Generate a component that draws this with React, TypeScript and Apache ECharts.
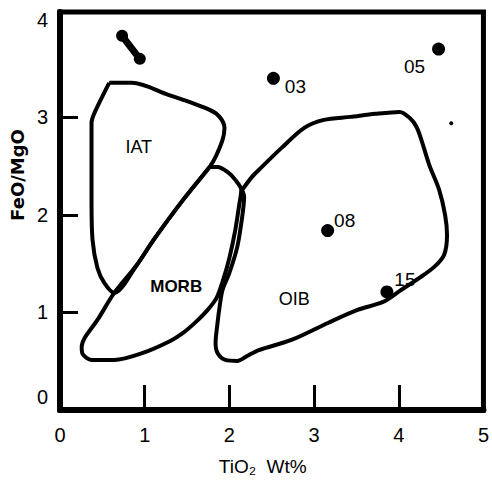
import React, { useEffect, useRef } from "react";
import * as echarts from "echarts";

// TiO2 (wt%) vs FeO/MgO
const xTicks = [1, 2, 3, 4];
const yTicks = [1, 2, 3];
const xLabels = [0, 1, 2, 3, 4, 5];
const yLabels = [0, 1, 2, 3, 4];

const iatField: number[][] = [
  [0.581, 3.354], [0.849, 3.354], [1.279, 3.231], [1.767, 3.077], [1.884, 3.005],
  [1.942, 2.892], [1.919, 2.769], [1.837, 2.595], [1.767, 2.492], [1.453, 2.154],
  [1.105, 1.744], [0.907, 1.487], [0.640, 1.200], [0.523, 1.303], [0.442, 1.456],
  [0.384, 1.744], [0.372, 2.154], [0.372, 2.667], [0.372, 2.944], [0.407, 3.046],
  [0.581, 3.354],
];

const morbField: number[][] = [
  [1.767, 2.492], [1.860, 2.492], [1.977, 2.441], [2.070, 2.359], [2.140, 2.256],
  [2.116, 2.103], [2.070, 1.846], [2.000, 1.559], [1.919, 1.313], [1.849, 1.149],
  [1.744, 1.026], [1.605, 0.903], [1.453, 0.790], [1.302, 0.708], [0.977, 0.585],
  [0.640, 0.513], [0.372, 0.513], [0.267, 0.574], [0.256, 0.646], [0.291, 0.738],
  [0.442, 0.923], [0.640, 1.200], [0.907, 1.487], [1.105, 1.744], [1.453, 2.154],
  [1.767, 2.492],
];

const oibField: number[][] = [
  [2.151, 2.256], [2.267, 2.390], [2.384, 2.492], [2.616, 2.687], [2.884, 2.892],
  [3.116, 2.974], [3.430, 3.005], [3.721, 3.036], [4.012, 3.056], [4.128, 2.995],
  [4.209, 2.903], [4.267, 2.769], [4.360, 2.513], [4.477, 2.256], [4.547, 2.000],
  [4.570, 1.795], [4.535, 1.590], [4.419, 1.467], [4.244, 1.354], [4.012, 1.221],
  [3.814, 1.108], [3.512, 1.026], [3.163, 0.892], [2.733, 0.718], [2.349, 0.615],
  [2.209, 0.554], [2.093, 0.503], [1.953, 0.513], [1.860, 0.585], [1.837, 0.687],
  [1.860, 0.892], [1.884, 1.056], [1.919, 1.231], [2.000, 1.405], [2.093, 1.672],
  [2.151, 1.979], [2.174, 2.185], [2.151, 2.256],
];

const fieldNames = ["IAT", "MORB", "OIB"];
const fieldLabelPos: number[][] = [
  [0.93, 2.697],
  [1.372, 1.262],
  [2.767, 1.138],
];

const sampleNames = ["03", "05", "08", "15"];
const sampleTiO2 = [2.52, 4.47, 3.16, 3.86];
const sampleFeOMgO = [3.4, 3.7, 1.84, 1.21];

const blobPoints: number[][] = [
  [0.733, 3.836],
  [0.835, 3.72],
  [0.942, 3.6],
];
const speck: number[][] = [[4.62, 2.94]];

const narrow = "'Liberation Sans Narrow', 'Liberation Sans', Arial, sans-serif";

export default function App() {
  const ref = useRef<HTMLDivElement>(null);
  useEffect(() => {
    if (!ref.current) return;
    const chart = echarts.init(ref.current, null, { renderer: "svg" });
    const labelOffsets: Record<string, number[]> = {
      "03": [22, 8],
      "05": [-24, 17],
      "08": [17, -10],
      "15": [18, -12],
    };
    const fieldLine = (name: string, data: number[][]) => ({
      type: "line",
      name,
      data,
      smooth: 0.3,
      symbol: "none",
      lineStyle: { color: "#000", width: 4 },
      z: 3,
    });
    chart.setOption({
      animation: false,
      backgroundColor: "#fff",
      grid: {
        left: 55,
        right: 7,
        top: 12,
        bottom: 74,
        show: true,
        borderColor: "#000",
        borderWidth: 5,
        backgroundColor: "transparent",
      },
      xAxis: {
        type: "value",
        min: 0,
        max: 5,
        interval: 1,
        name: "TiO\u2082  Wt%",
        nameLocation: "middle",
        nameGap: 47,
        nameTextStyle: {
          fontFamily: narrow,
          fontSize: 19,
          color: "#000",
          padding: [0, 18, 0, 0],
        },
        axisLine: { show: true, lineStyle: { color: "#000", width: 6 } },
        axisTick: {
          show: true,
          inside: true,
          length: 25,
          customValues: xTicks,
          lineStyle: { color: "#000", width: 3 },
        },
        axisLabel: {
          customValues: xLabels,
          margin: 15,
          fontFamily: narrow,
          fontSize: 20,
          color: "#000",
        },
        splitLine: { show: false },
      },
      yAxis: {
        type: "value",
        min: 0,
        max: 4.08,
        interval: 1,
        name: "FeO/MgO",
        nameLocation: "middle",
        nameGap: 27,
        nameRotate: 90,
        nameTextStyle: {
          fontFamily: "'DejaVu Sans', sans-serif",
          fontWeight: "bold",
          fontSize: 18,
          color: "#000",
          padding: [0, 0, 0, 72],
        },
        axisLine: { show: true, lineStyle: { color: "#000", width: 6 } },
        axisTick: {
          show: true,
          inside: true,
          length: 18,
          customValues: yTicks,
          lineStyle: { color: "#000", width: 3 },
        },
        axisLabel: {
          customValues: yLabels,
          margin: 12,
          fontFamily: narrow,
          fontSize: 20,
          color: "#000",
          formatter: (v: number) => (v === 0 ? "{z|0}" : String(v)),
          rich: {
            z: {
              fontFamily: narrow,
              fontSize: 20,
              color: "#000",
              padding: [0, 0, 26, 0],
            },
          },
        },
        splitLine: { show: false },
      },
      series: [
        fieldLine("IAT", iatField),
        fieldLine("MORB", morbField),
        fieldLine("OIB", oibField),
        {
          type: "line",
          name: "blob",
          data: blobPoints,
          symbol: "none",
          lineStyle: { color: "#000", width: 7, cap: "round" },
          z: 4,
        },
        {
          type: "scatter",
          name: "blobEnds",
          data: [blobPoints[0], blobPoints[2]],
          symbol: "circle",
          symbolSize: 12,
          itemStyle: { color: "#000", opacity: 1 },
          z: 4,
        },
        {
          type: "scatter",
          name: "fields",
          data: fieldNames.map((n, i) => ({
            name: n,
            value: fieldLabelPos[i],
            label: n === "MORB" ? { fontWeight: "bold", fontSize: 17 } : {},
          })),
          symbolSize: 0,
          itemStyle: { color: "#000", opacity: 1 },
          label: {
            show: true,
            position: "inside",
            formatter: (p: any) => p.name,
            fontFamily: narrow,
            fontSize: 18,
            color: "#000",
            opacity: 1,
          },
          z: 5,
        },
        {
          type: "scatter",
          name: "samples",
          data: sampleNames.map((n, i) => ({
            name: n,
            value: [sampleTiO2[i], sampleFeOMgO[i]],
            label: { offset: labelOffsets[n] },
          })),
          symbol: "circle",
          symbolSize: 13,
          itemStyle: { color: "#000", opacity: 1 },
          label: {
            show: true,
            position: "inside",
            formatter: (p: any) => p.name,
            fontFamily: narrow,
            fontSize: 19,
            color: "#000",
          },
          z: 6,
        },
        {
          type: "scatter",
          name: "speck",
          data: speck,
          symbolSize: 4,
          itemStyle: { color: "#000", opacity: 1 },
          z: 6,
        },
      ],
    });
    return () => chart.dispose();
  }, []);
  return (
    <div
      ref={ref}
      style={{ position: "fixed", left: 0, top: 0, width: 492, height: 484 }}
    />
  );
}
